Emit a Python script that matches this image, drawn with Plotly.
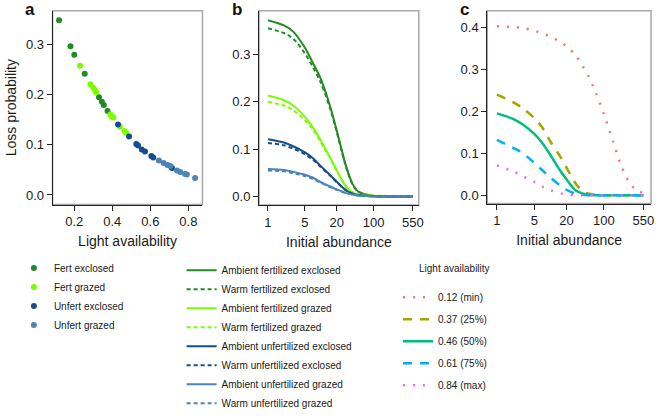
import plotly.graph_objects as go

# ---------------- Panel a data ----------------
fert_excl_light = [0.12, 0.18, 0.20, 0.255, 0.33, 0.345, 0.355, 0.375]
fert_excl_loss = [0.349, 0.297, 0.28, 0.242, 0.195, 0.186, 0.18, 0.168]
fert_graz_light = [0.23, 0.285, 0.30, 0.31, 0.315, 0.39, 0.398, 0.406, 0.44, 0.464, 0.474]
fert_graz_loss = [0.258, 0.221, 0.214, 0.208, 0.205, 0.161, 0.157, 0.155, 0.137, 0.128, 0.124]
unfert_excl_light = [0.43, 0.488, 0.526, 0.535, 0.555, 0.572, 0.605, 0.615, 0.714]
unfert_excl_loss = [0.141, 0.117, 0.102, 0.099, 0.091, 0.087, 0.078, 0.075, 0.054]
unfert_graz_light = [0.645, 0.67, 0.69, 0.705, 0.74, 0.757, 0.783, 0.792, 0.835]
unfert_graz_loss = [0.069, 0.064, 0.060, 0.058, 0.049, 0.046, 0.042, 0.041, 0.034]

# ---------------- Panel b data ----------------
abund_b = [1, 2, 3, 5, 7, 10, 15, 20, 30, 40, 50, 70, 100, 200, 550]
amb_fert_excl = [0.372, 0.361, 0.348, 0.314, 0.283, 0.248, 0.190, 0.139, 0.064, 0.026, 0.011, 0.004, 0.001, 0.0, 0.0]
warm_fert_excl = [0.355, 0.345, 0.333, 0.302, 0.274, 0.240, 0.186, 0.136, 0.062, 0.025, 0.011, 0.004, 0.001, 0.0, 0.0]
amb_fert_graz = [0.213, 0.203, 0.192, 0.168, 0.147, 0.118, 0.082, 0.055, 0.021, 0.008, 0.004, 0.002, 0.001, 0.0, 0.0]
warm_fert_graz = [0.200, 0.192, 0.182, 0.161, 0.142, 0.114, 0.080, 0.054, 0.021, 0.009, 0.005, 0.003, 0.002, 0.001, 0.0]
amb_unfert_excl = [0.121, 0.114, 0.106, 0.093, 0.081, 0.064, 0.045, 0.031, 0.013, 0.006, 0.003, 0.001, 0.0005, 0.0, 0.0]
warm_unfert_excl = [0.113, 0.108, 0.101, 0.089, 0.078, 0.062, 0.044, 0.030, 0.013, 0.006, 0.003, 0.002, 0.001, 0.0, 0.0]
amb_unfert_graz = [0.058, 0.056, 0.052, 0.046, 0.040, 0.030, 0.021, 0.015, 0.007, 0.004, 0.002, 0.001, 0.0, 0.0, 0.0]
warm_unfert_graz = [0.055, 0.053, 0.049, 0.043, 0.037, 0.029, 0.020, 0.014, 0.007, 0.004, 0.002, 0.001, 0.0, 0.0, 0.0]

# ---------------- Panel c data ----------------
abund_c = [1, 2, 3, 5, 7, 10, 15, 20, 30, 40, 50, 70, 100, 150, 200, 300, 400, 550]
light_min = [0.403, 0.401, 0.399, 0.392, 0.386, 0.378, 0.366, 0.355, 0.333, 0.308, 0.287, 0.246, 0.194, 0.127, 0.078, 0.030, 0.013, 0.005]
light_q25 = [0.240, 0.222, 0.208, 0.184, 0.162, 0.128, 0.094, 0.066, 0.027, 0.010, 0.004, 0.001, 0.0, 0.0, 0.0, 0.0, 0.0, 0.0]
light_q50 = [0.195, 0.182, 0.169, 0.146, 0.125, 0.096, 0.060, 0.038, 0.011, 0.004, 0.001, 0.0, 0.0, 0.0, 0.0, 0.0, 0.0, 0.0]
light_q75 = [0.132, 0.113, 0.101, 0.077, 0.060, 0.042, 0.024, 0.013, 0.003, 0.001, 0.0, 0.0, 0.0, 0.0, 0.0, 0.0, 0.0, 0.0]
light_max = [0.071, 0.057, 0.046, 0.032, 0.021, 0.012, 0.005, 0.002, 0.0, 0.0, 0.0, 0.0, 0.0, 0.0, 0.0, 0.0, 0.0, 0.0]

abund_ticks = [1, 5, 20, 100, 550]

FONT = "Liberation Sans, Arial, Helvetica, sans-serif"
C_FE = "#238b23"
C_FG = "#7cfc00"
C_UE = "#174d8a"
C_UG = "#4a84b8"

fig = go.Figure()

# Panel a points
for name, xs, ys, col in [
    ("Fert exclosed", fert_excl_light, fert_excl_loss, C_FE),
    ("Fert grazed", fert_graz_light, fert_graz_loss, C_FG),
    ("Unfert exclosed", unfert_excl_light, unfert_excl_loss, C_UE),
    ("Unfert grazed", unfert_graz_light, unfert_graz_loss, C_UG),
]:
    fig.add_trace(go.Scatter(x=xs, y=ys, mode="markers", name=name,
                             marker=dict(color=col, size=6),
                             xaxis="x", yaxis="y", legend="legend"))

# Panel b curves
b_series = [
    ("Ambient fertilized exclosed", amb_fert_excl, C_FE, "solid"),
    ("Warm fertilized exclosed", warm_fert_excl, C_FE, "4px,3px"),
    ("Ambient fertilized grazed", amb_fert_graz, C_FG, "solid"),
    ("Warm fertilized grazed", warm_fert_graz, C_FG, "4px,3px"),
    ("Ambient unfertilized exclosed", amb_unfert_excl, C_UE, "solid"),
    ("Warm unfertilized exclosed", warm_unfert_excl, C_UE, "4px,3px"),
    ("Ambient unfertilized grazed", amb_unfert_graz, C_UG, "solid"),
    ("Warm unfertilized grazed", warm_unfert_graz, C_UG, "4px,3px"),
]
for name, ys, col, dash in b_series:
    fig.add_trace(go.Scatter(x=abund_b, y=ys, mode="lines", name=name,
                             line=dict(color=col, width=2, dash=dash, shape="spline", smoothing=0.8),
                             xaxis="x2", yaxis="y2", legend="legend2"))

# Panel c curves
c_series = [
    ("0.12 (min)", light_min, "#F8766D", "2px,8px"),
    ("0.37 (25%)", light_q25, "#A3A500", "9px,8px"),
    ("0.46 (50%)", light_q50, "#00BF7D", "solid"),
    ("0.61 (75%)", light_q75, "#00B0F6", "9px,8px"),
    ("0.84 (max)", light_max, "#E76BF3", "2px,8px"),
]
for i, (name, ys, col, dash) in enumerate(c_series):
    fig.add_trace(go.Scatter(x=abund_c, y=ys, mode="lines", name=name,
                             line=dict(color=col, width=2.5, dash=dash, shape="spline", smoothing=0.8),
                             legendgroup=f"g{i}",
                             xaxis="x3", yaxis="y3", legend="legend3"))

axis_common = dict(showline=True, linecolor="#222", linewidth=1, ticks="outside",
                   ticklen=5, tickcolor="#222", tickwidth=1, showgrid=False, zeroline=False,
                   tickfont=dict(family=FONT, size=13, color="#1a1a1a"))

H = 418.0
W = 660.0

fig.update_layout(
    width=660, height=418,
    margin=dict(l=0, r=0, t=0, b=0),
    paper_bgcolor="white", plot_bgcolor="white",
    font=dict(family=FONT, color="#1a1a1a"),
    xaxis=dict(domain=[53 / W, 204 / W], range=[0.086, 0.874], tickvals=[0.2, 0.4, 0.6, 0.8],
               ticktext=["0.2", "0.4", "0.6", "0.8"], anchor="y",
               title=dict(text="Light availability", font=dict(size=14), standoff=8), **axis_common),
    yaxis=dict(domain=[1 - 209 / H, 1 - 11 / H], range=[-0.019, 0.368], tickvals=[0, 0.1, 0.2, 0.3],
               ticktext=["0.0", "0.1", "0.2", "0.3"], anchor="x",
               title=dict(text="Loss probability", font=dict(size=14), standoff=6), **axis_common),
    xaxis2=dict(domain=[261 / W, 422 / W], type="log", range=[-0.169, 2.853], tickvals=abund_ticks,
                ticktext=[str(v) for v in abund_ticks], anchor="y2",
                title=dict(text="Initial abundance", font=dict(size=14), standoff=8), **axis_common),
    yaxis2=dict(domain=[1 - 209.5 / H, 1 - 11 / H], range=[-0.018, 0.392], tickvals=[0, 0.1, 0.2, 0.3],
                ticktext=["0.0", "0.1", "0.2", "0.3"], anchor="x2", **axis_common),
    xaxis3=dict(domain=[491 / W, 656 / W], type="log", range=[-0.18, 2.883], tickvals=abund_ticks,
                ticktext=[str(v) for v in abund_ticks], anchor="y3",
                title=dict(text="Initial abundance", font=dict(size=14), standoff=8), **axis_common),
    yaxis3=dict(domain=[1 - 208 / H, 1 - 11 / H], range=[-0.0198, 0.4397], tickvals=[0, 0.1, 0.2, 0.3, 0.4],
                ticktext=["0.0", "0.1", "0.2", "0.3", "0.4"], anchor="x3", **axis_common),
    legend=dict(x=14 / W, y=1 - 259 / H, xanchor="left", yanchor="top", bgcolor="rgba(0,0,0,0)",
                font=dict(family=FONT, size=10, color="#1a1a1a"), itemwidth=30),
    legend2=dict(x=183 / W, y=1 - 261.5 / H, xanchor="left", yanchor="top", bgcolor="rgba(0,0,0,0)",
                 font=dict(family=FONT, size=10, color="#1a1a1a"), itemwidth=30),
    legend3=dict(x=401 / W, y=1 - 289 / H, xanchor="left", yanchor="top", bgcolor="rgba(0,0,0,0)",
                 font=dict(family=FONT, size=10, color="#1a1a1a"), itemwidth=30,
                 traceorder="grouped", tracegroupgap=3),
    showlegend=True,
)

# gray panel frames
for xr, yr in [("x domain", "y domain"), ("x2 domain", "y2 domain"), ("x3 domain", "y3 domain")]:
    fig.add_shape(type="rect", xref=xr, yref=yr, x0=0, x1=1, y0=0, y1=1,
                  line=dict(color="#a8a8a8", width=1.5), layer="below")

# panel letters and legend title
for letter, px in [("a", 23), ("b", 232), ("c", 461)]:
    fig.add_annotation(text=f"<b>{letter}</b>", x=px / W, y=1 - 10 / H, xref="paper", yref="paper",
                       xanchor="left", yanchor="middle", showarrow=False,
                       font=dict(family=FONT, size=17, color="#111"))
fig.add_annotation(text="Light availability", x=420 / W, y=1 - 274 / H, xref="paper", yref="paper",
                   xanchor="left", yanchor="middle", showarrow=False,
                   font=dict(family=FONT, size=10, color="#1a1a1a"))

fig.write_html(
    "out.html",
    config={"displayModeBar": False},
    post_script=(
        "document.body.style.margin='0px';"
        "document.body.style.overflow='hidden';"
        "document.documentElement.style.overflow='hidden';"
    ),
)
